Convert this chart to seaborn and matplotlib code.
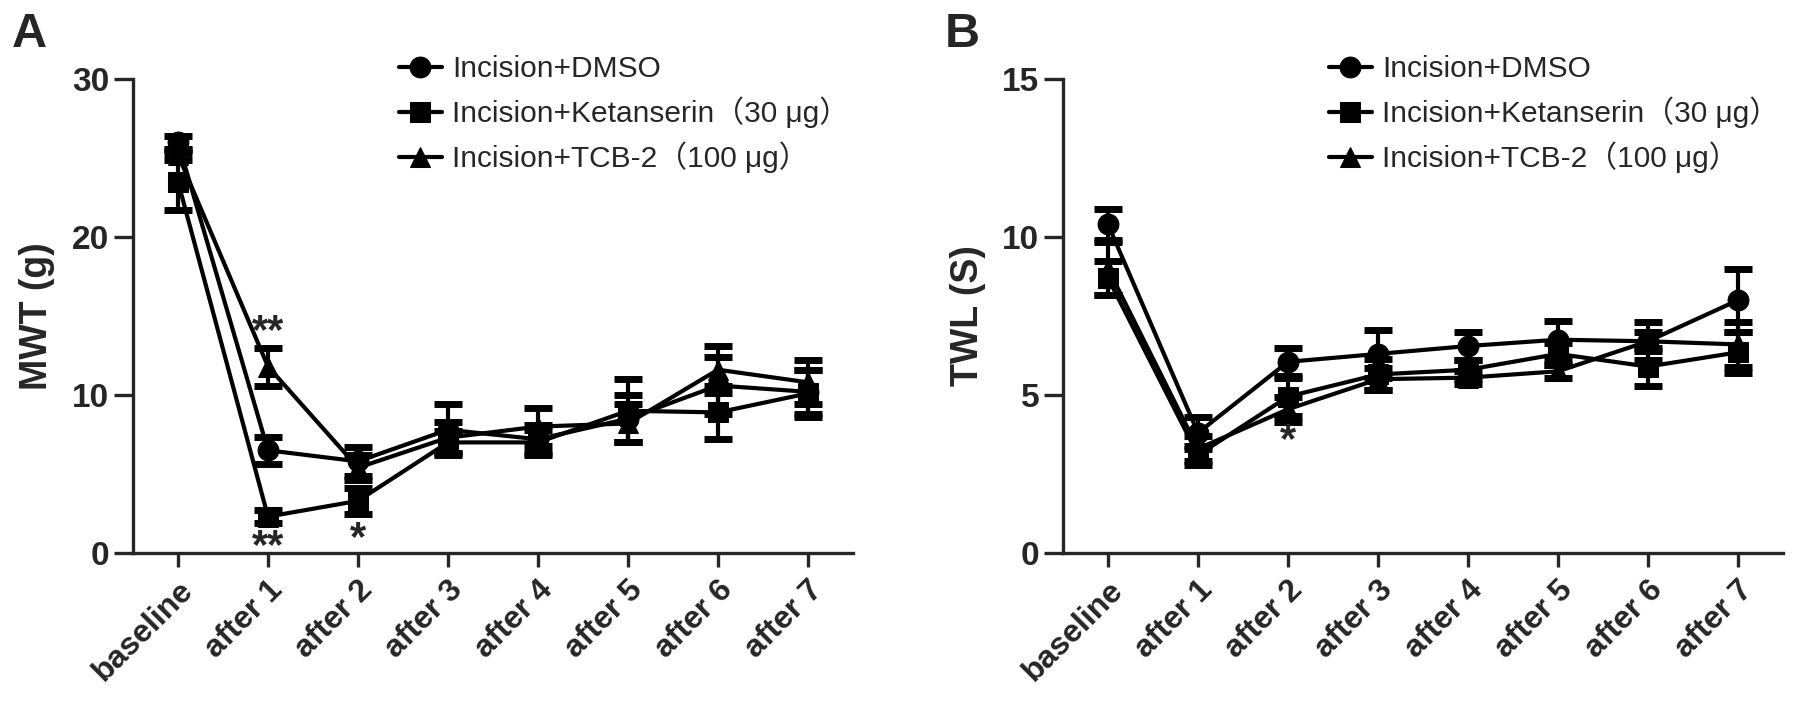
import numpy as np
import pandas as pd
import matplotlib
matplotlib.use("Agg")
import matplotlib.pyplot as plt
import seaborn as sns

categories = ['baseline', 'after 1', 'after 2', 'after 3', 'after 4', 'after 5', 'after 6', 'after 7']
groups = ['Incision+DMSO', 'Incision+Ketanserin（30 μg）', 'Incision+TCB-2（100 μg）']

# Panel A: MWT (g)
mwt_dmso = [26.0, 6.5, 5.8, 7.8, 7.2, 8.5, 10.6, 10.2]
mwt_dmso_err = [0.4, 0.85, 0.9, 1.6, 0.9, 1.5, 1.8, 1.4]
mwt_ket = [23.5, 2.3, 3.3, 7.0, 7.0, 9.0, 8.9, 10.1]
mwt_ket_err = [1.8, 0.4, 0.8, 0.7, 0.8, 2.0, 1.7, 1.5]
mwt_tcb = [25.2, 11.8, 5.4, 7.3, 8.0, 8.2, 11.6, 10.8]
mwt_tcb_err = [0.3, 1.2, 0.8, 1.0, 1.2, 1.2, 1.5, 1.4]

# Panel B: TWL (S)
twl_dmso = [10.4, 3.8, 6.05, 6.3, 6.55, 6.75, 6.7, 8.0]
twl_dmso_err = [0.5, 0.5, 0.45, 0.75, 0.45, 0.6, 0.6, 1.0]
twl_ket = [8.7, 3.1, 4.95, 5.65, 5.8, 6.3, 5.9, 6.35]
twl_ket_err = [0.55, 0.3, 0.6, 0.5, 0.3, 0.35, 0.6, 0.65]
twl_tcb = [9.0, 3.3, 4.55, 5.5, 5.55, 5.75, 6.7, 6.6]
twl_tcb_err = [0.85, 0.4, 0.4, 0.35, 0.2, 0.2, 0.3, 0.7]

sns.set_style("ticks")
plt.rcParams['font.family'] = ['Liberation Sans', 'Noto Sans CJK SC', 'DejaVu Sans']

fig = plt.figure(figsize=(17.95, 7.02), dpi=100)
axA = fig.add_axes([133/1795, 1-553/702, 720/1795, 474/702])
axB = fig.add_axes([1063/1795, 1-553/702, 720/1795, 474/702])

markers = {groups[0]: 'o', groups[1]: 's', groups[2]: '^'}
palette = {g: 'black' for g in groups}


def draw(ax, series, errs, ymax, yticks, ylabel):
    rows = []
    for g, vals in zip(groups, series):
        for i, v in enumerate(vals):
            rows.append({'idx': i, 'val': v, 'group': g})
    df = pd.DataFrame(rows)
    x = np.arange(len(categories))
    for vals, err in zip(series, errs):
        ax.errorbar(x, vals, yerr=err, fmt='none', ecolor='black',
                    elinewidth=3.0, capsize=10, capthick=5, zorder=2)
    sns.lineplot(data=df, x='idx', y='val', hue='group', style='group',
                 markers=markers, dashes=False, palette=palette,
                 hue_order=groups, style_order=groups,
                 markersize=15, linewidth=3.0, markeredgecolor='black',
                 ax=ax, zorder=3, legend=True)
    ax.set_xlim(-0.5, 7.5)
    ax.set_ylim(0, ymax)
    ax.set_yticks(yticks)
    ax.set_xticks(x)
    ax.set_xticklabels(categories, rotation=45, ha='right', va='top',
                       rotation_mode='anchor', fontsize=23, fontweight='bold')
    for t in ax.get_yticklabels():
        t.set_fontsize(24)
        t.set_fontweight('bold')
    ax.tick_params(axis='y', length=14, width=2.4, pad=3)
    ax.tick_params(axis='x', length=10, width=2.4, pad=6)
    ax.set_xlabel('')
    ax.set_ylabel(ylabel, fontsize=27, fontweight='bold', labelpad=12)
    for s in ['top', 'right']:
        ax.spines[s].set_visible(False)
    for s in ['left', 'bottom']:
        ax.spines[s].set_linewidth(2.4)
    handles, labels = ax.get_legend_handles_labels()
    ax.legend(handles, labels, loc='upper left', bbox_to_anchor=(0.369, 1.05),
              frameon=False, fontsize=21.5, handlelength=1.45,
              handletextpad=0.35, labelspacing=0.45, borderpad=0,
              borderaxespad=0)


draw(axA, [mwt_dmso, mwt_ket, mwt_tcb], [mwt_dmso_err, mwt_ket_err, mwt_tcb_err],
     30, [0, 10, 20, 30], 'MWT (g)')
draw(axB, [twl_dmso, twl_ket, twl_tcb], [twl_dmso_err, twl_ket_err, twl_tcb_err],
     15, [0, 5, 10, 15], 'TWL (S)')

# significance marks
star = dict(ha='center', va='baseline', fontsize=30, fontweight='bold')
axA.text(1, 13.3, '**', **star)
axA.text(1, -0.35, '**', **star)
axA.text(2, 0.2, '*', **star)
axB.text(2, 3.2, '*', **star)

fig.text(12/1795, 1-47/702, 'A', fontsize=35, fontweight='bold', ha='left', va='baseline')
fig.text(945/1795, 1-47/702, 'B', fontsize=35, fontweight='bold', ha='left', va='baseline')

fig.savefig('out.png', dpi=100)
